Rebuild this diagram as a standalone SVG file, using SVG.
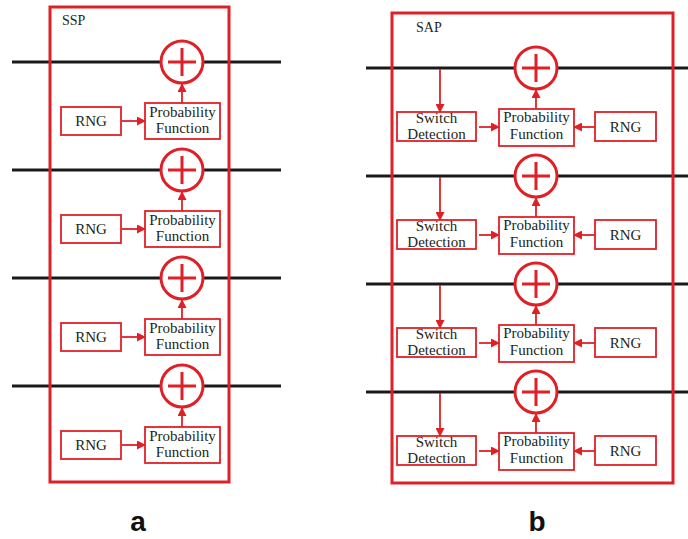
<svg xmlns="http://www.w3.org/2000/svg" width="688" height="539" viewBox="0 0 688 539">
<defs>
<style>
.bus{stroke:#1a1a1a;stroke-width:3;fill:none}
.frame{fill:none;stroke:#e02027;stroke-width:3}
.box{fill:#fff;stroke:#e02027;stroke-width:1.8}
.sum{fill:#fff;stroke:#e02027;stroke-width:3}
.plus{stroke:#e02027;stroke-width:3;fill:none}
.con{stroke:#e02027;stroke-width:1.8;fill:none}
.t{font-family:"Liberation Serif","Times New Roman",serif;font-size:15px;fill:#231f20}
.c{text-anchor:middle}
.lbl{font-family:"Liberation Sans",Arial,sans-serif;font-weight:bold;font-size:28px;fill:#111;text-anchor:middle}
</style>
<marker id="ah" markerUnits="userSpaceOnUse" markerWidth="9" markerHeight="9" refX="8" refY="4.5" orient="auto">
<path d="M0,0 L9,4.5 L0,9 Z" fill="#e02027"/>
</marker>
<g id="sumA"><circle class="sum" cx="0" cy="0" r="21"/><path class="plus" d="M-14,0 H14 M0,-14 V14"/></g>
</defs>
<rect width="688" height="539" fill="#fff"/>

<g id="signal-lines">
<line class="bus" x1="12" y1="62" x2="281" y2="62"/>
<line class="bus" x1="12" y1="170" x2="281" y2="170"/>
<line class="bus" x1="12" y1="278" x2="281" y2="278"/>
<line class="bus" x1="12" y1="386" x2="281" y2="386"/>
<line class="bus" x1="366" y1="68" x2="688" y2="68"/>
<line class="bus" x1="366" y1="176" x2="688" y2="176"/>
<line class="bus" x1="366" y1="284" x2="688" y2="284"/>
<line class="bus" x1="366" y1="392" x2="688" y2="392"/>
</g>

<g id="panel-a">
<rect class="frame" x="50" y="7" width="179" height="475"/>
<text class="t" x="62" y="25" style="font-size:14px">SSP</text>
</g>
<g id="panel-b">
<rect class="frame" x="392" y="13" width="281" height="470"/>
<text class="t" x="416" y="32" style="font-size:14px">SAP</text>
</g>

<g id="connectors">
<line class="con" x1="122" y1="121" x2="145" y2="121" marker-end="url(#ah)"/>
<line class="con" x1="182" y1="103" x2="182" y2="84" marker-end="url(#ah)"/>
<line class="con" x1="122" y1="229" x2="145" y2="229" marker-end="url(#ah)"/>
<line class="con" x1="182" y1="211" x2="182" y2="192" marker-end="url(#ah)"/>
<line class="con" x1="122" y1="337" x2="145" y2="337" marker-end="url(#ah)"/>
<line class="con" x1="182" y1="319" x2="182" y2="300" marker-end="url(#ah)"/>
<line class="con" x1="122" y1="445" x2="145" y2="445" marker-end="url(#ah)"/>
<line class="con" x1="182" y1="427" x2="182" y2="408" marker-end="url(#ah)"/>
<line class="con" x1="440" y1="69" x2="440" y2="112" marker-end="url(#ah)"/>
<line class="con" x1="479" y1="127" x2="499" y2="127" marker-end="url(#ah)"/>
<line class="con" x1="595" y1="127" x2="574" y2="127" marker-end="url(#ah)"/>
<line class="con" x1="536" y1="109" x2="536" y2="90" marker-end="url(#ah)"/>
<line class="con" x1="440" y1="177" x2="440" y2="220" marker-end="url(#ah)"/>
<line class="con" x1="479" y1="235" x2="499" y2="235" marker-end="url(#ah)"/>
<line class="con" x1="595" y1="235" x2="574" y2="235" marker-end="url(#ah)"/>
<line class="con" x1="536" y1="217" x2="536" y2="198" marker-end="url(#ah)"/>
<line class="con" x1="440" y1="285" x2="440" y2="328" marker-end="url(#ah)"/>
<line class="con" x1="479" y1="343" x2="499" y2="343" marker-end="url(#ah)"/>
<line class="con" x1="595" y1="343" x2="574" y2="343" marker-end="url(#ah)"/>
<line class="con" x1="536" y1="325" x2="536" y2="306" marker-end="url(#ah)"/>
<line class="con" x1="440" y1="393" x2="440" y2="436" marker-end="url(#ah)"/>
<line class="con" x1="479" y1="451" x2="499" y2="451" marker-end="url(#ah)"/>
<line class="con" x1="595" y1="451" x2="574" y2="451" marker-end="url(#ah)"/>
<line class="con" x1="536" y1="433" x2="536" y2="414" marker-end="url(#ah)"/>
</g>

<g id="a-sum1"><use href="#sumA" x="182" y="62"/></g>
<g id="a-pf1"><rect class="box" x="145" y="103" width="75" height="36"/><text class="t c" x="182.5" y="117">Probability</text><text class="t c" x="182.5" y="133">Function</text></g>
<g id="a-rng1"><rect class="box" x="61" y="107" width="60" height="28"/><text class="t c" x="91" y="126">RNG</text></g>

<g id="a-sum2"><use href="#sumA" x="182" y="170"/></g>
<g id="a-pf2"><rect class="box" x="145" y="211" width="75" height="36"/><text class="t c" x="182.5" y="225">Probability</text><text class="t c" x="182.5" y="241">Function</text></g>
<g id="a-rng2"><rect class="box" x="61" y="215" width="60" height="28"/><text class="t c" x="91" y="234">RNG</text></g>

<g id="a-sum3"><use href="#sumA" x="182" y="278"/></g>
<g id="a-pf3"><rect class="box" x="145" y="319" width="75" height="36"/><text class="t c" x="182.5" y="333">Probability</text><text class="t c" x="182.5" y="349">Function</text></g>
<g id="a-rng3"><rect class="box" x="61" y="323" width="60" height="28"/><text class="t c" x="91" y="342">RNG</text></g>

<g id="a-sum4"><use href="#sumA" x="182" y="386"/></g>
<g id="a-pf4"><rect class="box" x="145" y="427" width="75" height="36"/><text class="t c" x="182.5" y="441">Probability</text><text class="t c" x="182.5" y="457">Function</text></g>
<g id="a-rng4"><rect class="box" x="61" y="431" width="60" height="28"/><text class="t c" x="91" y="450">RNG</text></g>

<g id="b-sum1"><use href="#sumA" x="536" y="68"/></g>
<g id="b-sd1"><rect class="box" x="397" y="112" width="79" height="29"/><text class="t c" x="436.5" y="123">Switch</text><text class="t c" x="436.5" y="139">Detection</text></g>
<g id="b-pf1"><rect class="box" x="499" y="109" width="75" height="37"/><text class="t c" x="536.5" y="122">Probability</text><text class="t c" x="536.5" y="139">Function</text></g>
<g id="b-rng1"><rect class="box" x="595" y="112" width="61" height="29"/><text class="t c" x="625.5" y="132">RNG</text></g>

<g id="b-sum2"><use href="#sumA" x="536" y="176"/></g>
<g id="b-sd2"><rect class="box" x="397" y="220" width="79" height="29"/><text class="t c" x="436.5" y="231">Switch</text><text class="t c" x="436.5" y="247">Detection</text></g>
<g id="b-pf2"><rect class="box" x="499" y="217" width="75" height="37"/><text class="t c" x="536.5" y="230">Probability</text><text class="t c" x="536.5" y="247">Function</text></g>
<g id="b-rng2"><rect class="box" x="595" y="220" width="61" height="29"/><text class="t c" x="625.5" y="240">RNG</text></g>

<g id="b-sum3"><use href="#sumA" x="536" y="284"/></g>
<g id="b-sd3"><rect class="box" x="397" y="328" width="79" height="29"/><text class="t c" x="436.5" y="339">Switch</text><text class="t c" x="436.5" y="355">Detection</text></g>
<g id="b-pf3"><rect class="box" x="499" y="325" width="75" height="37"/><text class="t c" x="536.5" y="338">Probability</text><text class="t c" x="536.5" y="355">Function</text></g>
<g id="b-rng3"><rect class="box" x="595" y="328" width="61" height="29"/><text class="t c" x="625.5" y="348">RNG</text></g>

<g id="b-sum4"><use href="#sumA" x="536" y="392"/></g>
<g id="b-sd4"><rect class="box" x="397" y="436" width="79" height="29"/><text class="t c" x="436.5" y="447">Switch</text><text class="t c" x="436.5" y="463">Detection</text></g>
<g id="b-pf4"><rect class="box" x="499" y="433" width="75" height="37"/><text class="t c" x="536.5" y="446">Probability</text><text class="t c" x="536.5" y="463">Function</text></g>
<g id="b-rng4"><rect class="box" x="595" y="436" width="61" height="29"/><text class="t c" x="625.5" y="456">RNG</text></g>

<text class="lbl" x="138" y="531">a</text>
<text class="lbl" x="537" y="531">b</text>
</svg>
